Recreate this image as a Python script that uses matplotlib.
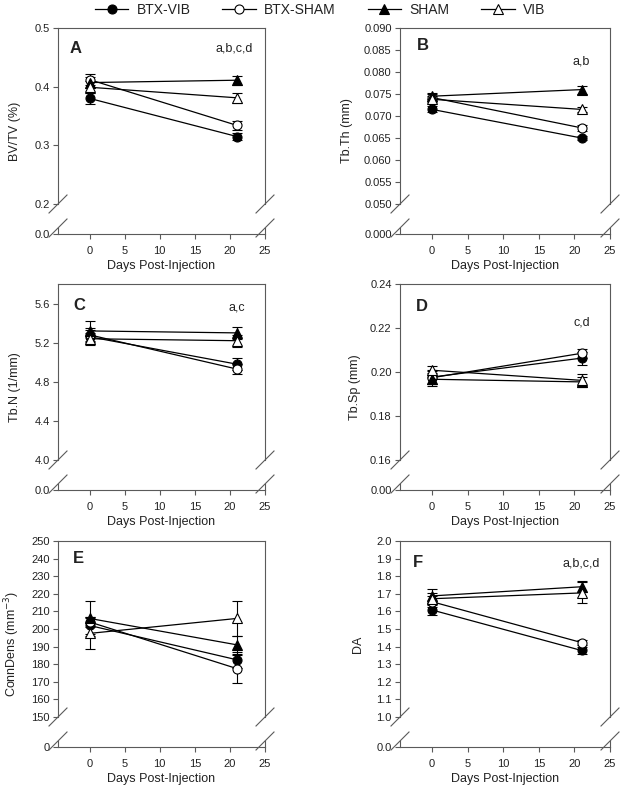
import matplotlib
matplotlib.use("Agg")
import matplotlib.pyplot as plt
from matplotlib.lines import Line2D
import numpy as np

plt.rcParams['font.family'] = ['Liberation Sans', 'DejaVu Sans']

W, H = 624, 790

days = [0, 21]
groups = ["BTX-VIB", "BTX-SHAM", "SHAM", "VIB"]

# means at day 0 / day 21, and SEM
bvtv = {"BTX-VIB": [0.380, 0.315], "BTX-SHAM": [0.412, 0.334], "SHAM": [0.407, 0.411], "VIB": [0.399, 0.381]}
bvtv_err = {"BTX-VIB": [0.009, 0.006], "BTX-SHAM": [0.010, 0.008], "SHAM": [0.010, 0.008], "VIB": [0.010, 0.009]}

tbth = {"BTX-VIB": [0.0715, 0.0650], "BTX-SHAM": [0.0742, 0.0673], "SHAM": [0.0745, 0.0760], "VIB": [0.0738, 0.0715]}
tbth_err = {"BTX-VIB": [0.0007, 0.0005], "BTX-SHAM": [0.0008, 0.0006], "SHAM": [0.0007, 0.0009], "VIB": [0.0007, 0.0005]}

tbn = {"BTX-VIB": [5.26, 4.98], "BTX-SHAM": [5.28, 4.93], "SHAM": [5.32, 5.30], "VIB": [5.24, 5.22]}
tbn_err = {"BTX-VIB": [0.07, 0.06], "BTX-SHAM": [0.07, 0.05], "SHAM": [0.10, 0.06], "VIB": [0.06, 0.06]}

tbsp = {"BTX-VIB": [0.1977, 0.2063], "BTX-SHAM": [0.1974, 0.2085], "SHAM": [0.1967, 0.1955], "VIB": [0.2008, 0.1962]}
tbsp_err = {"BTX-VIB": [0.003, 0.003], "BTX-SHAM": [0.003, 0.002], "SHAM": [0.003, 0.002], "VIB": [0.002, 0.003]}

conn = {"BTX-VIB": [202.0, 182.5], "BTX-SHAM": [204.0, 177.5], "SHAM": [206.0, 191.0], "VIB": [197.5, 206.0]}
conn_err = {"BTX-VIB": [5, 4.5], "BTX-SHAM": [3, 8], "SHAM": [10, 5], "VIB": [9, 10]}

da = {"BTX-VIB": [1.608, 1.378], "BTX-SHAM": [1.655, 1.423], "SHAM": [1.688, 1.740], "VIB": [1.672, 1.705]}
da_err = {"BTX-VIB": [0.03, 0.02], "BTX-SHAM": [0.03, 0.015], "SHAM": [0.04, 0.03], "VIB": [0.03, 0.06]}

styles = {
    "BTX-VIB": dict(marker="o", mfc="black", ms=6.5),
    "BTX-SHAM": dict(marker="o", mfc="white", ms=6.5),
    "SHAM": dict(marker="^", mfc="black", ms=7),
    "VIB": dict(marker="^", mfc="white", ms=7),
}

panels = [
    # letter, ylabel, data, err, ylim, step, fmt, zero label, note, note pos, col, row, letter pos, ylabel x
    ("A", "BV/TV (%)", bvtv, bvtv_err, (0.2, 0.5), 0.1, "%.1f", "0.0", "a,b,c,d", (0.942, 0.886), 0, 0, (0.058, 0.886), 15),
    ("B", "Tb.Th (mm)", tbth, tbth_err, (0.050, 0.090), 0.005, "%.3f", "0.000", "a,b", (0.905, 0.807), 1, 0, (0.081, 0.90), 347),
    ("C", "Tb.N (1/mm)", tbn, tbn_err, (4.0, 5.8), 0.4, "%.1f", "0.0", "a,c", (0.903, 0.864), 0, 1, (0.072, 0.875), 15),
    ("D", "Tb.Sp (mm)", tbsp, tbsp_err, (0.16, 0.24), 0.02, "%.2f", "0.00", "c,d", (0.905, 0.784), 1, 1, (0.076, 0.87), 355),
    ("E", "ConnDens (mm$^{-3}$)", conn, conn_err, (150, 250), 10, "%d", "0", "", (0.9, 0.9), 0, 2, (0.072, 0.903), 12),
    ("F", "DA", da, da_err, (1.0, 2.0), 0.1, "%.1f", "0.0", "a,b,c,d", (0.952, 0.875), 1, 2, (0.062, 0.88), 358),
]

col_lr = [(58, 265), (400, 610)]
row_top = [28, 284, 541]
main_h = 176
panel_h = 206
stub_h = 6

spine_c = "#5a5a5a"
text_c = "#222222"


def frac_rect(l, t, r, b):
    return [l / W, 1 - b / H, (r - l) / W, (b - t) / H]


def slash(fig, x, y):
    # diagonal break mark centred at pixel (x, y) measured from top-left
    d = 9
    fig.add_artist(Line2D([(x - d) / W, (x + d) / W], [1 - (y + d) / H, 1 - (y - d) / H],
                          transform=fig.transFigure, color=spine_c, lw=0.8))


fig = plt.figure(figsize=(W / 100, H / 100), dpi=100)

for (letter, ylab, data, err, ylim, step, fmt, zlab, note, note_pos,
     col, row, let_pos, ylab_x) in panels:
    l, r = col_lr[col]
    t = row_top[row]
    ax = fig.add_axes(frac_rect(l, t, r, t + main_h))
    stub = fig.add_axes(frac_rect(l, t + panel_h - stub_h, r, t + panel_h))

    for g in groups:
        st = styles[g]
        ax.errorbar(days, data[g], yerr=err[g], color="black", lw=0.9, elinewidth=0.8,
                    capsize=3.5, capthick=0.8, marker=st["marker"], ms=st["ms"],
                    mfc=st["mfc"], mec="black", mew=0.8, zorder=3)

    ticks = np.arange(ylim[0], ylim[1] + step / 2, step)
    ax.set_ylim(*ylim)
    ax.set_xlim(-4.5, 25)
    ax.set_yticks(ticks)
    ax.set_yticklabels([fmt % v for v in ticks])
    ax.set_xticks([])
    ax.spines["bottom"].set_visible(False)
    for s in ["left", "right", "top"]:
        ax.spines[s].set_color(spine_c)
        ax.spines[s].set_linewidth(0.8)
    ax.tick_params(axis="y", direction="out", length=3.5, width=0.8, color=spine_c,
                   labelsize=8, labelcolor=text_c, pad=2.5)

    stub.set_xlim(-4.5, 25)
    stub.set_ylim(0, 1)
    stub.set_yticks([0])
    stub.set_yticklabels([zlab])
    stub.set_xticks([0, 5, 10, 15, 20, 25])
    stub.spines["top"].set_visible(False)
    for s in ["left", "right", "bottom"]:
        stub.spines[s].set_color(spine_c)
        stub.spines[s].set_linewidth(0.8)
    stub.tick_params(direction="out", length=3.5, width=0.8, color=spine_c,
                     labelsize=8, labelcolor=text_c, pad=2.5)
    stub.tick_params(axis="x", pad=5)
    stub.set_xlabel("Days Post-Injection", fontsize=9, color=text_c, labelpad=3)

    ax.text(let_pos[0], let_pos[1], letter, transform=ax.transAxes, fontsize=12,
            fontweight="bold", color=text_c, ha="left", va="center")
    if note:
        ax.text(note_pos[0], note_pos[1], note, transform=ax.transAxes, fontsize=9,
                color=text_c, ha="right", va="center")

    fig.text(ylab_x / W, 1 - (t + panel_h / 2) / H, ylab, rotation=90, fontsize=9,
             color=text_c, ha="center", va="center")

    for x in (l, r):
        slash(fig, x, t + main_h)
        slash(fig, x, t + panel_h - stub_h)

handles = [Line2D([], [], color="black", lw=0.9, marker=styles[g]["marker"], ms=styles[g]["ms"],
                  mfc=styles[g]["mfc"], mec="black", mew=0.8) for g in groups]
fig.legend(handles, groups, loc="center", bbox_to_anchor=(0.513, 1 - 10 / H), ncol=4,
           frameon=False, fontsize=10, handlelength=2.4, handletextpad=0.6,
           columnspacing=2.3, labelcolor=text_c)

fig.savefig("out.png", dpi=100)
